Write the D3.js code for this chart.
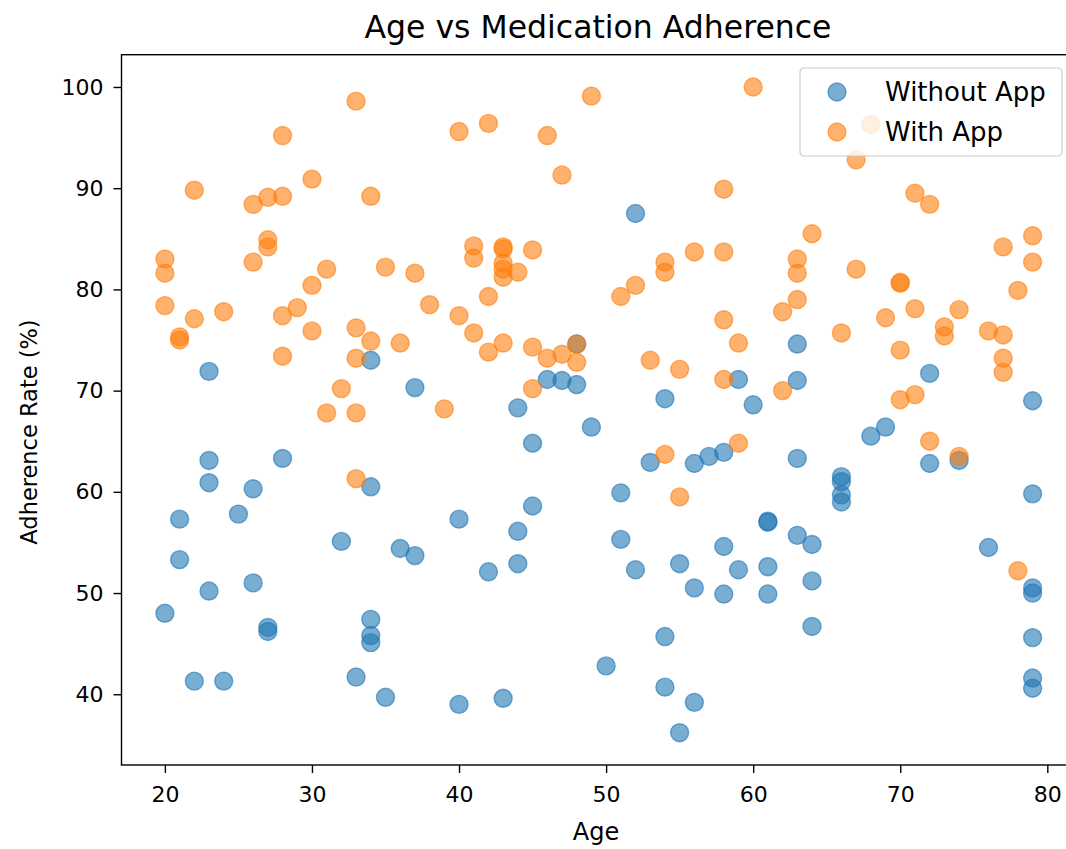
<!DOCTYPE html>
<html>
<head>
<meta charset="utf-8">
<script src="https://cdn.jsdelivr.net/npm/d3@7"></script>
<style>
  body { margin: 0; background: #fff; }
  text { font-family: "DejaVu Sans", sans-serif; fill: #000; }
</style>
</head>
<body>
<div class="chart"></div>
<script>
// ages and adherence rates
var ageWithout = [20, 21, 21, 22, 23, 23, 23, 23, 24, 25, 26, 26, 27, 27, 28, 32, 33, 34, 34, 34, 34, 34, 35, 36, 37, 37,
  40, 40, 42, 43, 44, 44, 44, 45, 45, 46, 47, 48, 48, 49, 50, 51, 51, 52, 52, 53, 54, 54, 54, 55, 55, 56, 56, 56, 57,
  58, 58, 58, 59, 59, 60, 61, 61, 61, 61, 63, 63, 63, 63, 64, 64, 64, 66, 66, 66, 66, 68, 69, 72, 72, 74, 76,
  79, 79, 79, 79, 79, 79, 79];
var rateWithout = [48.0, 57.3, 53.3, 41.3, 71.9, 63.1, 60.9, 50.2, 41.3, 57.8, 60.3, 51.0, 46.6, 46.2, 63.3, 55.1, 41.7,
  73.0, 60.5, 47.4, 45.8, 45.1, 39.7, 54.4, 70.3, 53.7,
  57.3, 39.0, 52.1, 39.6, 68.3, 56.1, 52.9, 64.8, 58.6, 71.1, 71.0, 70.6, 74.6, 66.4, 42.8, 59.9, 55.3, 87.5, 52.3, 62.9,
  69.2, 45.7, 40.7, 52.9, 36.2, 62.8, 50.5, 39.2, 63.5,
  63.9, 54.6, 49.9, 71.1, 52.3, 68.6, 57.1, 57.0, 52.6, 49.9, 74.6, 71.0, 63.3, 55.7, 54.8, 51.2, 46.7, 61.5, 61.0, 59.7,
  59.0, 65.5, 66.4, 71.7, 62.8, 63.1, 54.5,
  69.0, 59.8, 50.5, 50.0, 45.6, 41.6, 40.6];

var ageWith = [20, 20, 20, 21, 21, 22, 22, 24, 26, 26, 27, 27, 27, 28, 28, 28, 28, 29, 30, 30, 30, 31, 31, 32,
  33, 33, 33, 33, 33, 34, 34, 35, 36, 37, 38, 39, 40, 40, 41, 41, 41, 42, 42, 42, 43, 43, 43, 43, 43, 43, 44,
  45, 45, 45, 46, 46, 47, 47, 48, 48, 49, 51, 52, 53, 54, 54, 54, 55, 55, 56, 58, 58, 58, 58, 59, 59, 60,
  62, 62, 63, 63, 63, 64, 66, 67, 67, 68, 69, 70, 70, 70, 70, 71, 71, 71, 72, 72, 73, 73, 74, 74, 76,
  77, 77, 77, 77, 78, 78, 79, 79];
var rateWith = [83.0, 81.6, 78.4, 75.3, 75.0, 89.8, 77.1, 77.8, 88.4, 82.7, 89.1, 84.9, 84.2, 95.2, 89.2, 77.4, 73.4,
  78.2, 90.9, 80.4, 75.9, 82.0, 67.8, 70.2,
  98.6, 76.2, 73.2, 67.8, 61.3, 89.2, 74.9, 82.2, 74.7, 81.6, 78.5, 68.2, 95.6, 77.4, 84.3, 83.1, 75.7, 96.4, 79.3,
  73.8, 84.2, 84.0, 82.6, 82.0, 81.2, 74.7, 81.7,
  83.9, 74.3, 70.2, 95.2, 73.2, 91.3, 73.6, 74.6, 72.8, 99.1, 79.3, 80.4, 73.0, 82.7, 81.7, 63.7, 72.1, 59.5, 83.7,
  89.9, 83.7, 77.0, 71.1, 74.7, 64.8, 100.0,
  77.8, 70.0, 83.0, 81.6, 79.0, 85.5, 75.7, 92.8, 82.0, 96.3, 77.2, 80.7, 80.6, 74.0, 69.1, 89.5, 78.1, 69.6, 88.4,
  65.0, 76.3, 75.4, 78.0, 63.5, 75.9,
  84.2, 75.5, 73.2, 71.8, 79.9, 52.2, 85.3, 82.7];

var seriesNames = ["Without App", "With App"];
var seriesColors = ["#1f77b4", "#ff7f0e"];
var xTicks = [20, 30, 40, 50, 60, 70, 80];
var yTicks = [40, 50, 60, 70, 80, 90, 100];

var svgWidth = 1066;
var svgHeight = 849;

var margin = {
  top: 54.7,
  right: -10,
  bottom: 84,
  left: 121.5
};

var width = svgWidth - margin.left - margin.right;
var height = svgHeight - margin.top - margin.bottom;

var series = [
  ageWithout.map((a, i) => ({ age: a, rate: rateWithout[i] })),
  ageWith.map((a, i) => ({ age: a, rate: rateWith[i] }))
];

var svg = d3
  .select(".chart")
  .append("svg")
  .attr("width", svgWidth)
  .attr("height", svgHeight);

var chartGroup = svg.append("g")
  .attr("transform", `translate(${margin.left}, ${margin.top})`);

// matplotlib style 5% padding around the data
var allAges = ageWithout.concat(ageWith);
var allRates = rateWithout.concat(rateWith);
var xMin = d3.min(allAges), xMax = d3.max(allAges);
var yMin = d3.min(allRates), yMax = d3.max(allRates);
var xPad = (xMax - xMin) * 0.05;
var yPad = (yMax - yMin) * 0.05;

var xLinearScale = d3.scaleLinear()
  .domain([xMin - xPad, xMax + xPad])
  .range([0, width]);

var yLinearScale = d3.scaleLinear()
  .domain([yMin - yPad, yMax + yPad])
  .range([height, 0]);

var bottomAxis = d3.axisBottom(xLinearScale).tickValues(xTicks).tickSize(8).tickPadding(13);
var leftAxis = d3.axisLeft(yLinearScale).tickValues(yTicks).tickSize(8).tickPadding(10);

// points
series.forEach(function(data, k) {
  chartGroup.append("g")
    .selectAll("circle")
    .data(data)
    .enter()
    .append("circle")
    .attr("cx", d => xLinearScale(d.age))
    .attr("cy", d => yLinearScale(d.rate))
    .attr("r", 9)
    .attr("fill", seriesColors[k])
    .attr("fill-opacity", 0.6)
    .attr("stroke", seriesColors[k])
    .attr("stroke-opacity", 0.6)
    .attr("stroke-width", 1.4);
});

// frame
chartGroup.append("rect")
  .attr("width", width)
  .attr("height", height)
  .attr("fill", "none")
  .attr("stroke", "#000")
  .attr("stroke-width", 1.4);

var xAxis = chartGroup.append("g")
  .attr("transform", `translate(0, ${height})`)
  .call(bottomAxis);

var yAxis = chartGroup.append("g")
  .call(leftAxis);

[xAxis, yAxis].forEach(function(ax) {
  ax.select(".domain").remove();
  ax.selectAll(".tick line").attr("stroke", "#000").attr("stroke-width", 1.4);
  ax.selectAll(".tick text").attr("font-size", 22).attr("fill", "#000");
});

// labels
svg.append("text")
  .attr("x", 598)
  .attr("y", 38)
  .attr("text-anchor", "middle")
  .attr("font-size", 31.5)
  .text("Age vs Medication Adherence");

svg.append("text")
  .attr("x", 596)
  .attr("y", 840)
  .attr("text-anchor", "middle")
  .attr("font-size", 24)
  .text("Age");

svg.append("text")
  .attr("transform", "rotate(-90)")
  .attr("x", -432)
  .attr("y", 37)
  .attr("text-anchor", "middle")
  .attr("font-size", 22.5)
  .text("Adherence Rate (%)");

// legend
var legend = svg.append("g")
  .attr("transform", "translate(800, 68)");

legend.append("rect")
  .attr("width", 262)
  .attr("height", 88)
  .attr("rx", 4)
  .attr("fill", "#fff")
  .attr("fill-opacity", 0.8)
  .attr("stroke", "#ccc")
  .attr("stroke-width", 1.2);

seriesNames.forEach(function(name, k) {
  legend.append("circle")
    .attr("cx", 37)
    .attr("cy", 24 + k * 40)
    .attr("r", 9)
    .attr("fill", seriesColors[k])
    .attr("fill-opacity", 0.6)
    .attr("stroke", seriesColors[k])
    .attr("stroke-opacity", 0.6)
    .attr("stroke-width", 1.4);
  legend.append("text")
    .attr("x", 85)
    .attr("y", 24 + k * 40)
    .attr("dy", "0.35em")
    .attr("font-size", 26)
    .text(name);
});
</script>
</body>
</html>
